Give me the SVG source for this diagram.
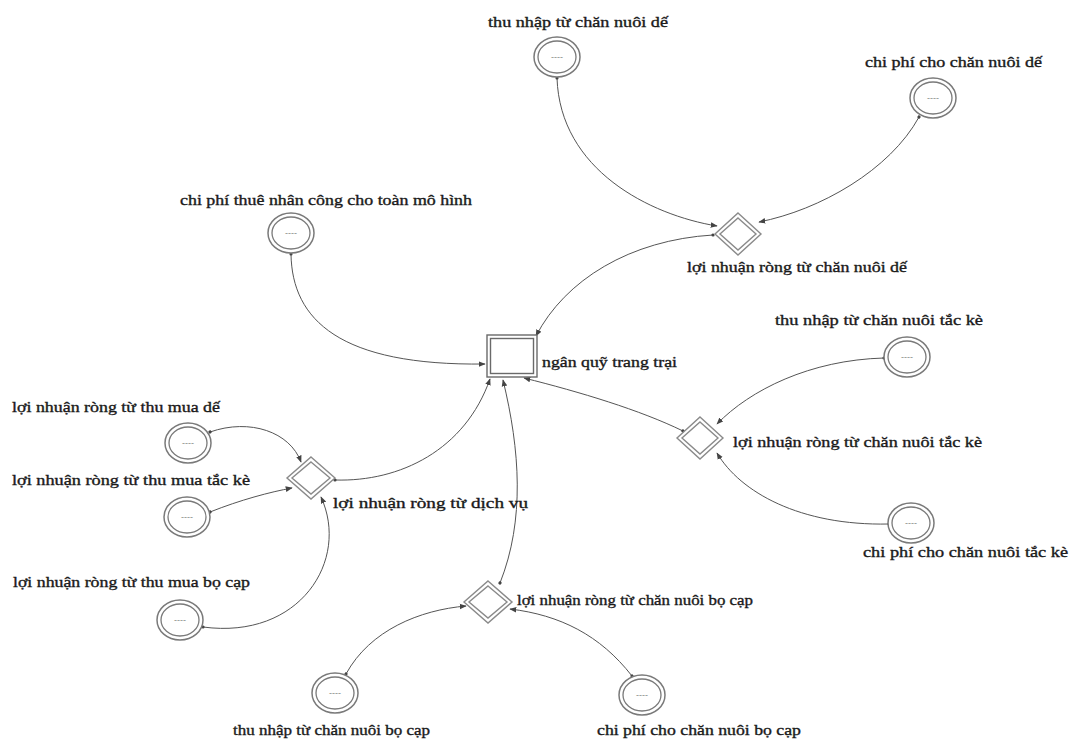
<svg xmlns="http://www.w3.org/2000/svg" width="1070" height="739" viewBox="0 0 1070 739">
<style>
.lbl{font-family:"Liberation Serif","Times New Roman",serif;font-size:14.5px;fill:#1a1a1a;stroke:#1a1a1a;stroke-width:0.35;}
.val{font-family:"Liberation Sans",Arial,sans-serif;font-size:9px;fill:#888;text-anchor:middle;}
.ring{fill:#fff;stroke:#7a7a7a;stroke-width:1.5;}
.ring2{fill:#fff;stroke:#7a7a7a;stroke-width:1.3;}
.sq{fill:#fff;stroke:#6a6a6a;stroke-width:1.4;}
.dia{fill:#fff;stroke:#8a8a8a;stroke-width:1.4;}
.link{fill:none;stroke:#555;stroke-width:1;marker-end:url(#arr);marker-start:url(#dot);}
</style>
<defs>
<marker id="arr" viewBox="0 0 10 10" refX="9" refY="5" markerWidth="7" markerHeight="7" orient="auto" markerUnits="userSpaceOnUse">
<path d="M0,1 L10,5 L0,9 Z" fill="#444"/>
</marker>
<marker id="dot" viewBox="0 0 10 10" refX="5" refY="5" markerWidth="4" markerHeight="4" orient="auto" markerUnits="userSpaceOnUse">
<circle cx="5" cy="5" r="4" fill="#444"/>
</marker>
</defs>
<rect width="1070" height="739" fill="#fff"/>

<g id="connectors">
<path class="link" d="M557,78 C560,170 650,215 717,226"/>
<path class="link" d="M919,117 C890,170 820,210 759,222"/>
<path class="link" d="M713,235 C630,240 565,280 536,336"/>
<path class="link" d="M291,254 C292,320 340,366 485,364"/>
<path class="link" d="M884,358 C810,360 750,390 717,424"/>
<path class="link" d="M889,524 C800,526 740,492 717,453"/>
<path class="link" d="M683,431 C640,410 580,392 524,378"/>
<path class="link" d="M335,480 C400,482 465,450 490,379"/>
<path class="link" d="M500,583 C525,520 520,450 503,380"/>
<path class="link" d="M210,432 C250,418 290,432 301,462"/>
<path class="link" d="M210,512 C240,500 270,492 292,488"/>
<path class="link" d="M203,627 C300,640 350,560 321,497"/>
<path class="link" d="M346,674 C370,630 420,610 466,606"/>
<path class="link" d="M632,676 C600,635 560,615 510,609"/>
</g>

<g id="n-thu-nhap-de">
<ellipse class="ring" cx="557" cy="57" rx="23" ry="20"/>
<ellipse class="ring2" cx="557" cy="57" rx="19" ry="16"/>
<text class="val" x="557" y="60">----</text>
<text class="lbl" x="488" y="27" textLength="180" lengthAdjust="spacingAndGlyphs">thu nhập từ chăn nuôi dế</text>
</g>

<g id="n-chi-phi-de">
<ellipse class="ring" cx="933" cy="98" rx="23" ry="20"/>
<ellipse class="ring2" cx="933" cy="98" rx="19" ry="16"/>
<text class="val" x="933" y="101">----</text>
<text class="lbl" x="865" y="67" textLength="177" lengthAdjust="spacingAndGlyphs">chi phí cho chăn nuôi dế</text>
</g>

<g id="n-nhan-cong">
<ellipse class="ring" cx="291" cy="233" rx="23" ry="20"/>
<ellipse class="ring2" cx="291" cy="233" rx="19" ry="16"/>
<text class="val" x="291" y="236">----</text>
<text class="lbl" x="180" y="205" textLength="292" lengthAdjust="spacingAndGlyphs">chi phí thuê nhân công cho toàn mô hình</text>
</g>

<g id="n-ln-chan-nuoi-de">
<polygon class="dia" points="738,213 761,234 738,255 715,234"/>
<polygon class="dia" points="738,218 756,234 738,250 720,234"/>
<text class="lbl" x="687" y="272" textLength="220" lengthAdjust="spacingAndGlyphs">lợi nhuận ròng từ chăn nuôi dế</text>
</g>

<g id="n-ngan-quy">
<rect class="sq" x="487" y="335" width="50" height="42"/>
<rect class="sq" x="490.5" y="338.5" width="43" height="35"/>
<text class="lbl" x="542" y="367" textLength="135" lengthAdjust="spacingAndGlyphs">ngân quỹ trang trại</text>
</g>

<g id="n-thu-nhap-tac-ke">
<ellipse class="ring" cx="907" cy="357" rx="23" ry="20"/>
<ellipse class="ring2" cx="907" cy="357" rx="19" ry="16"/>
<text class="val" x="907" y="360">----</text>
<text class="lbl" x="775" y="325" textLength="208" lengthAdjust="spacingAndGlyphs">thu nhập từ chăn nuôi tắc kè</text>
</g>

<g id="n-ln-chan-nuoi-tac-ke">
<polygon class="dia" points="700,417 723,438 700,459 677,438"/>
<polygon class="dia" points="700,422 718,438 700,454 682,438"/>
<text class="lbl" x="733" y="447" textLength="249" lengthAdjust="spacingAndGlyphs">lợi nhuận ròng từ chăn nuôi tắc kè</text>
</g>

<g id="n-chi-phi-tac-ke">
<ellipse class="ring" cx="911" cy="523" rx="23" ry="20"/>
<ellipse class="ring2" cx="911" cy="523" rx="19" ry="16"/>
<text class="val" x="911" y="526">----</text>
<text class="lbl" x="863" y="557" textLength="205" lengthAdjust="spacingAndGlyphs">chi phí cho chăn nuôi tắc kè</text>
</g>

<g id="n-thu-mua-de">
<ellipse class="ring" cx="188" cy="443" rx="23" ry="20"/>
<ellipse class="ring2" cx="188" cy="443" rx="19" ry="16"/>
<text class="val" x="188" y="446">----</text>
<text class="lbl" x="12" y="412" textLength="208" lengthAdjust="spacingAndGlyphs">lợi nhuận ròng từ thu mua dế</text>
</g>

<g id="n-thu-mua-tac-ke">
<ellipse class="ring" cx="187" cy="517" rx="23" ry="20"/>
<ellipse class="ring2" cx="187" cy="517" rx="19" ry="16"/>
<text class="val" x="187" y="520">----</text>
<text class="lbl" x="12" y="485" textLength="238" lengthAdjust="spacingAndGlyphs">lợi nhuận ròng từ thu mua tắc kè</text>
</g>

<g id="n-dich-vu">
<polygon class="dia" points="311,457 335,478 311,499 287,478"/>
<polygon class="dia" points="311,462 330,478 311,494 292,478"/>
<text class="lbl" x="333" y="508" textLength="195" lengthAdjust="spacingAndGlyphs">lợi nhuận ròng từ dịch vụ</text>
</g>

<g id="n-thu-mua-bo-cap">
<ellipse class="ring" cx="180" cy="620" rx="23" ry="20"/>
<ellipse class="ring2" cx="180" cy="620" rx="19" ry="16"/>
<text class="val" x="180" y="623">----</text>
<text class="lbl" x="13" y="587" textLength="237" lengthAdjust="spacingAndGlyphs">lợi nhuận ròng từ thu mua bọ cạp</text>
</g>

<g id="n-ln-chan-nuoi-bo-cap">
<polygon class="dia" points="488,581 512,602 488,623 464,602"/>
<polygon class="dia" points="488,586 507,602 488,618 469,602"/>
<text class="lbl" x="517" y="605" textLength="236" lengthAdjust="spacingAndGlyphs">lợi nhuận ròng từ chăn nuôi bọ cạp</text>
</g>

<g id="n-thu-nhap-bo-cap">
<ellipse class="ring" cx="335" cy="693" rx="23" ry="20"/>
<ellipse class="ring2" cx="335" cy="693" rx="19" ry="16"/>
<text class="val" x="335" y="696">----</text>
<text class="lbl" x="233" y="735" textLength="197" lengthAdjust="spacingAndGlyphs">thu nhập từ chăn nuôi bọ cạp</text>
</g>

<g id="n-chi-phi-bo-cap">
<ellipse class="ring" cx="642" cy="695" rx="23" ry="20"/>
<ellipse class="ring2" cx="642" cy="695" rx="19" ry="16"/>
<text class="val" x="642" y="698">----</text>
<text class="lbl" x="597" y="735" textLength="204" lengthAdjust="spacingAndGlyphs">chi phí cho chăn nuôi bọ cạp</text>
</g>
</svg>
